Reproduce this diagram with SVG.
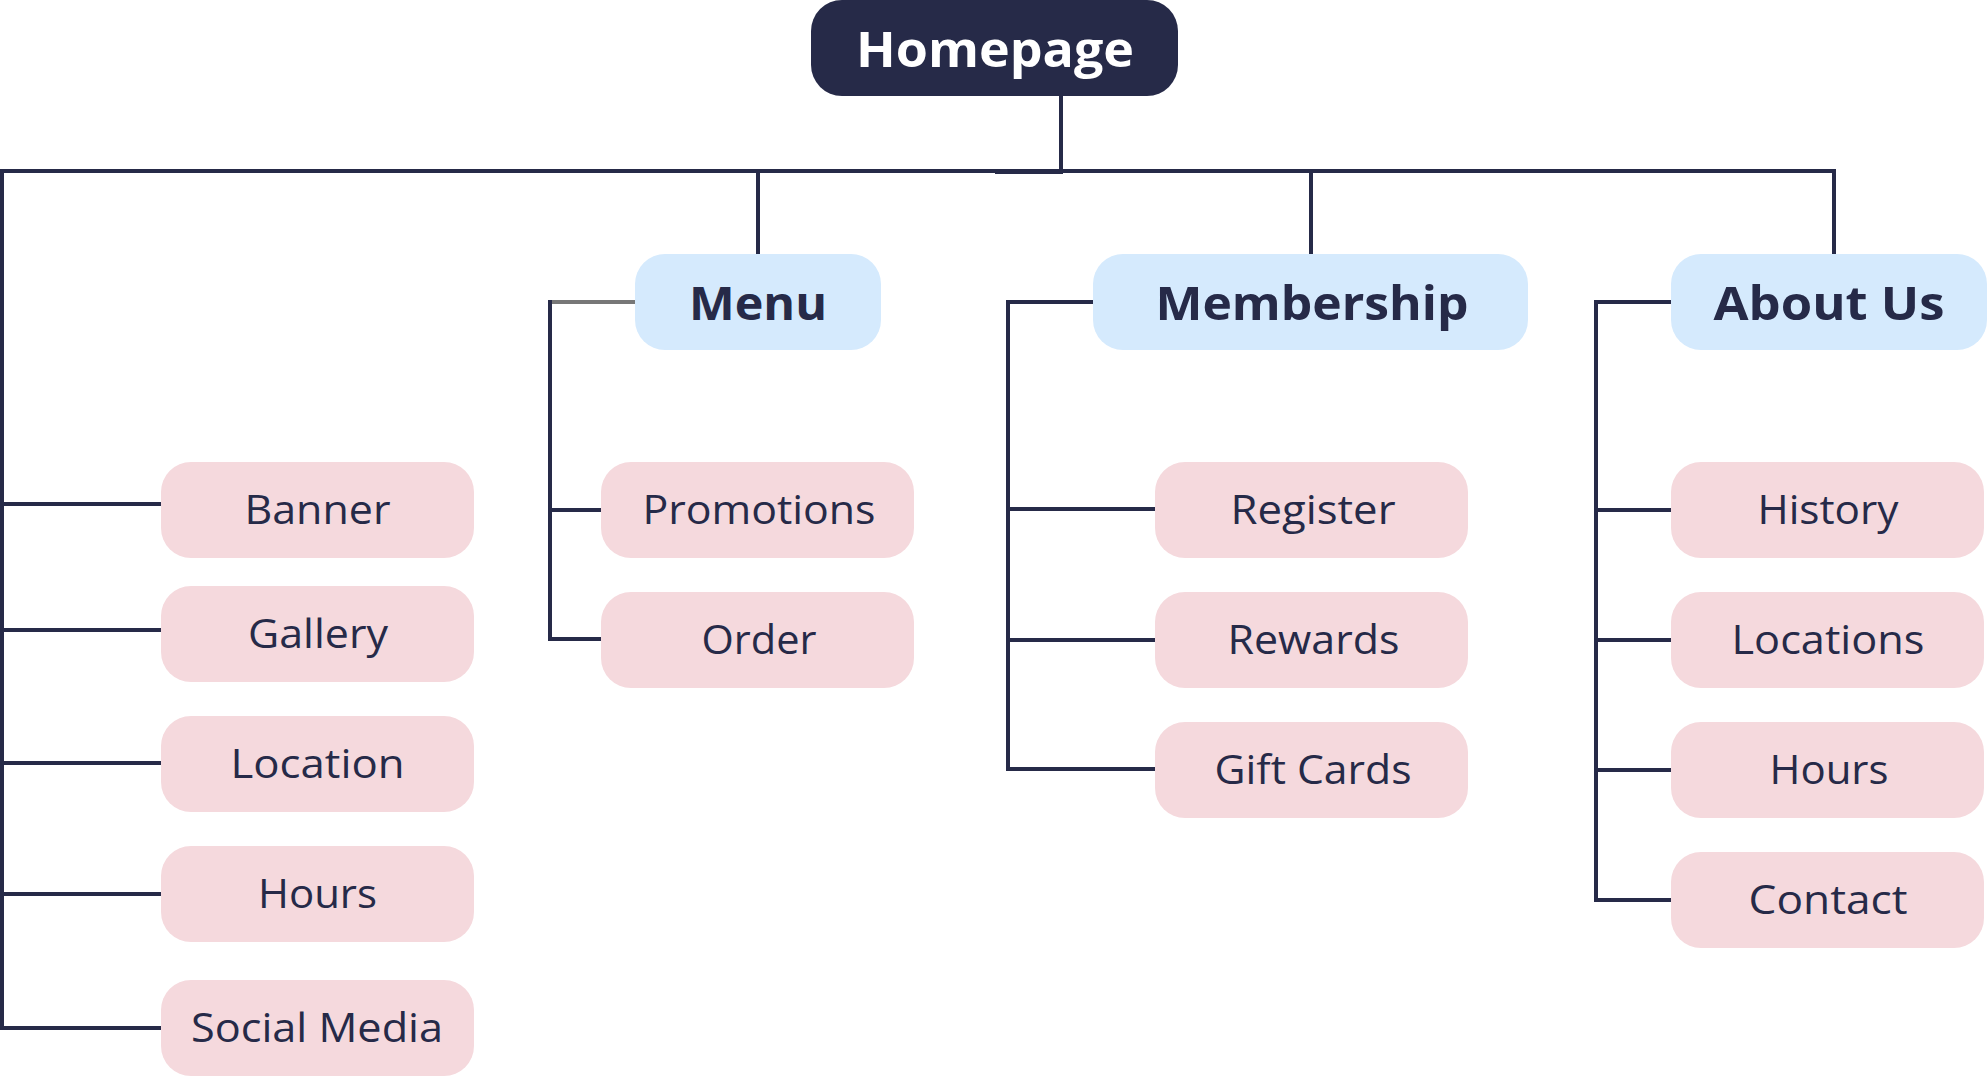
<svg xmlns="http://www.w3.org/2000/svg" width="1987" height="1076" viewBox="0 0 1987 1076">
<style>
.bg{fill:#ffffff}
.root rect{fill:#262a48}
.sec rect{fill:#d5eafd}
.leaf rect{fill:#f5d9dd}
.root text{fill:#ffffff;font-family:"Open Sans","Liberation Sans",sans-serif;font-weight:700;font-size:49px;text-anchor:middle}
.sec text{fill:#262a48;font-family:"Open Sans","Liberation Sans",sans-serif;font-weight:700;font-size:47px;text-anchor:middle}
.leaf text{fill:#262a48;font-family:"Open Sans","Liberation Sans",sans-serif;font-weight:400;font-size:40px;text-anchor:middle}
#connectors line{stroke:#262a48;stroke-width:4;fill:none}
#connectors line.gray{stroke:#777777}
</style>
<rect class="bg" x="0" y="0" width="1987" height="1076"/>
<g id="connectors">
  <line x1="1061" y1="95" x2="1061" y2="173"/>
  <line x1="0" y1="171" x2="1836" y2="171"/>
  <line x1="995" y1="172" x2="1063" y2="172"/>
  <line x1="2" y1="169" x2="2" y2="1030"/>
  <line x1="758" y1="169" x2="758" y2="255"/>
  <line x1="1311" y1="169" x2="1311" y2="255"/>
  <line x1="1834" y1="169" x2="1834" y2="255"/>
  <line x1="0" y1="504" x2="161" y2="504"/>
  <line x1="0" y1="630" x2="161" y2="630"/>
  <line x1="0" y1="763" x2="161" y2="763"/>
  <line x1="0" y1="894" x2="161" y2="894"/>
  <line x1="0" y1="1028" x2="161" y2="1028"/>
  <line class="gray" x1="548" y1="302" x2="635" y2="302"/>
  <line x1="550" y1="300" x2="550" y2="641"/>
  <line x1="548" y1="510" x2="601" y2="510"/>
  <line x1="548" y1="639" x2="601" y2="639"/>
  <line x1="1006" y1="302" x2="1093" y2="302"/>
  <line x1="1008" y1="300" x2="1008" y2="771"/>
  <line x1="1006" y1="509" x2="1155" y2="509"/>
  <line x1="1006" y1="640" x2="1155" y2="640"/>
  <line x1="1006" y1="769" x2="1155" y2="769"/>
  <line x1="1594" y1="302" x2="1671" y2="302"/>
  <line x1="1596" y1="300" x2="1596" y2="902"/>
  <line x1="1594" y1="510" x2="1671" y2="510"/>
  <line x1="1594" y1="640" x2="1671" y2="640"/>
  <line x1="1594" y1="770" x2="1671" y2="770"/>
  <line x1="1594" y1="900" x2="1671" y2="900"/>
</g>
<g id="homepage" class="root"><rect x="811" y="0" width="367" height="96" rx="31"/><text x="995" y="67" textLength="278" lengthAdjust="spacingAndGlyphs">Homepage</text></g>
<g id="menu" class="sec"><rect x="635" y="254" width="246" height="96" rx="30"/><text x="758" y="320" textLength="138" lengthAdjust="spacingAndGlyphs">Menu</text></g>
<g id="membership" class="sec"><rect x="1093" y="254" width="435" height="96" rx="30"/><text x="1312" y="320" textLength="313" lengthAdjust="spacingAndGlyphs">Membership</text></g>
<g id="about-us" class="sec"><rect x="1671" y="254" width="316" height="96" rx="30"/><text x="1829" y="320" textLength="231" lengthAdjust="spacingAndGlyphs">About Us</text></g>

<g id="banner" class="leaf"><rect x="161" y="462" width="313" height="96" rx="30"/><text x="317.5" y="524" textLength="146" lengthAdjust="spacingAndGlyphs">Banner</text></g>
<g id="gallery" class="leaf"><rect x="161" y="586" width="313" height="96" rx="30"/><text x="318" y="648" textLength="140" lengthAdjust="spacingAndGlyphs">Gallery</text></g>
<g id="location" class="leaf"><rect x="161" y="716" width="313" height="96" rx="30"/><text x="317.5" y="778" textLength="174" lengthAdjust="spacingAndGlyphs">Location</text></g>
<g id="hours-home" class="leaf"><rect x="161" y="846" width="313" height="96" rx="30"/><text x="317.5" y="908" textLength="119" lengthAdjust="spacingAndGlyphs">Hours</text></g>
<g id="social-media" class="leaf"><rect x="161" y="980" width="313" height="96" rx="30"/><text x="317" y="1042" textLength="252" lengthAdjust="spacingAndGlyphs">Social Media</text></g>

<g id="promotions" class="leaf"><rect x="601" y="462" width="313" height="96" rx="30"/><text x="759" y="524" textLength="233" lengthAdjust="spacingAndGlyphs">Promotions</text></g>
<g id="order" class="leaf"><rect x="601" y="592" width="313" height="96" rx="30"/><text x="759" y="654" textLength="115" lengthAdjust="spacingAndGlyphs">Order</text></g>

<g id="register" class="leaf"><rect x="1155" y="462" width="313" height="96" rx="30"/><text x="1313" y="524" textLength="165" lengthAdjust="spacingAndGlyphs">Register</text></g>
<g id="rewards" class="leaf"><rect x="1155" y="592" width="313" height="96" rx="30"/><text x="1313.5" y="654" textLength="172" lengthAdjust="spacingAndGlyphs">Rewards</text></g>
<g id="gift-cards" class="leaf"><rect x="1155" y="722" width="313" height="96" rx="30"/><text x="1313" y="784" textLength="197" lengthAdjust="spacingAndGlyphs">Gift Cards</text></g>

<g id="history" class="leaf"><rect x="1671" y="462" width="313" height="96" rx="30"/><text x="1828" y="524" textLength="141" lengthAdjust="spacingAndGlyphs">History</text></g>
<g id="locations" class="leaf"><rect x="1671" y="592" width="313" height="96" rx="30"/><text x="1828" y="654" textLength="193" lengthAdjust="spacingAndGlyphs">Locations</text></g>
<g id="hours-about" class="leaf"><rect x="1671" y="722" width="313" height="96" rx="30"/><text x="1829" y="784" textLength="119" lengthAdjust="spacingAndGlyphs">Hours</text></g>
<g id="contact" class="leaf"><rect x="1671" y="852" width="313" height="96" rx="30"/><text x="1828" y="914" textLength="159" lengthAdjust="spacingAndGlyphs">Contact</text></g>
</svg>
